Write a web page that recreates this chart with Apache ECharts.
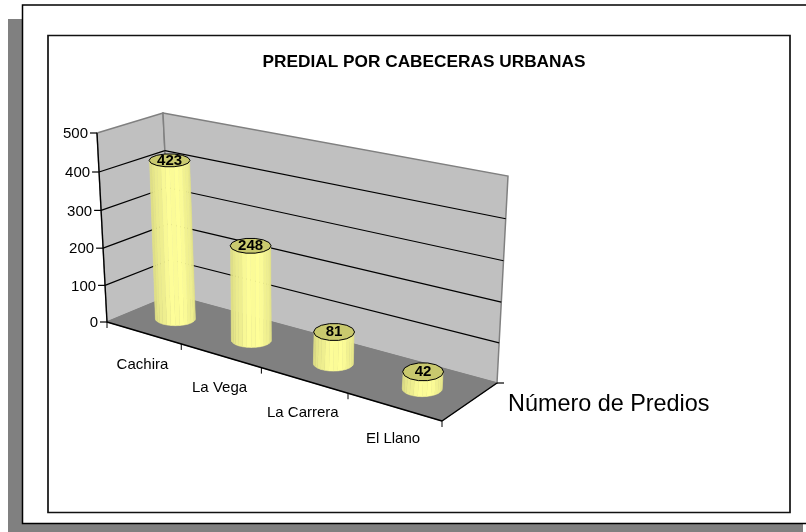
<!DOCTYPE html>
<html>
<head>
<meta charset="utf-8">
<style>
  html, body { margin: 0; padding: 0; background: #fff; overflow: hidden; }
  #chart { width: 806px; height: 532px; }
</style>
<script src="https://cdn.jsdelivr.net/npm/echarts@6/dist/echarts.min.js"></script>
</head>
<body>
<div id="chart"></div>
<script>
const categories = ['Cachira', 'La Vega', 'La Carrera', 'El Llano']
const predios = [423, 248, 81, 42]
const yTicks = [0, 100, 200, 300, 400, 500]
const seriesName = 'Número de Predios'
const chartTitle = 'PREDIAL POR CABECERAS URBANAS'

const FONT = '"Liberation Sans", Arial, sans-serif'

// hidden cartesian grid: gives the scales, the box below bends them into the 3D look
const plot = { left: 100, top: 100, width: 400, height: 200 }

// corners of the 3D box on screen
const box = {
    floorFL: [107, 322], floorFR: [442, 421], floorBL: [172, 295], floorBR: [497, 383],
    topFL: [97, 133], topFR: [459, 206], topBL: [163, 113], topBR: [508, 176]
}
const persp = (t, k) => t / (t + k * (1 - t))
const mix = (a, b, t) => [a[0] + (b[0] - a[0]) * t, a[1] + (b[1] - a[1]) * t]

const project = function (u, h, d) {
    const uu = persp(u, 1.17), hh = persp(h, 1.04)
    const bottom = mix(mix(box.floorFL, box.floorFR, uu), mix(box.floorBL, box.floorBR, uu), d)
    const top = mix(mix(box.topFL, box.topFR, uu), mix(box.topBL, box.topBR, uu), d)
    return mix(bottom, top, hh)
}
// pixel on the hidden grid -> pixel on the box
const fromGrid = function (pt, d) {
    return project((pt[0] - plot.left) / plot.width, (plot.top + plot.height - pt[1]) / plot.height, d)
}
const line = (a, b, stroke, lineWidth) => ({
    type: 'line',
    shape: { x1: a[0], y1: a[1], x2: b[0], y2: b[1] },
    style: { stroke, lineWidth, fill: null }
})
const poly = (points, fill, stroke, lineWidth) => ({
    type: 'polygon',
    shape: { points },
    style: { fill, stroke: stroke || fill, lineWidth: lineWidth || 0.5 }
})
const label = (text, pos, font, align) => ({
    type: 'text',
    style: { text, x: pos[0], y: pos[1], font, fill: '#000', align: align || 'center', verticalAlign: 'middle' }
})

const renderBox = function (params, api) {
    const children = []
    const yTop = api.coord([0, yTicks[yTicks.length - 1]])[1]
    const y0 = api.coord([0, 0])[1]
    const band = api.size([1, 0])[0]
    const xLeft = api.coord([0, 0])[0] - band / 2
    const xRight = xLeft + band * categories.length
    const at = (x, y, d) => fromGrid([x, y], d)

    const fl = at(xLeft, y0, 0), fr = at(xRight, y0, 0), bl = at(xLeft, y0, 1), br = at(xRight, y0, 1)
    const tfl = at(xLeft, yTop, 0), tbl = at(xLeft, yTop, 1), tbr = at(xRight, yTop, 1)

    children.push(poly([tfl, tbl, bl, fl], '#c0c0c0', '#808080', 1.5))
    children.push(poly([tbl, tbr, br, bl], '#c0c0c0', '#808080', 1.5))
    children.push(poly([fl, fr, br, bl], '#808080', '#808080', 1))

    yTicks.forEach(v => {
        const y = api.coord([0, v])[1]
        const a = at(xLeft, y, 0), b = at(xLeft, y, 1), c = at(xRight, y, 1)
        if (v > 0 && v < 500) {
            children.push(line(a, b, '#000', 1.2))
            children.push(line(b, c, '#000', 1.2))
        }
        children.push(line([a[0] - 7, a[1]], a, '#000', 1.2))
        children.push(label(String(v), [a[0] - 9, a[1] + 1], '15px ' + FONT, 'right'))
    })
    children.push(line(tfl, fl, '#000', 1.3))
    children.push(line(fl, fr, '#000', 1.5))
    children.push(line(fr, br, '#000', 1.5))
    children.push(line(br, [br[0] + 7, br[1]], '#000', 1.2))

    for (let i = 0; i <= categories.length; i++) {
        const p = at(xLeft + band * i, y0, 0)
        children.push(line(p, [p[0], p[1] + 6], '#000', 1))
        if (i < categories.length) {
            const c = at(api.coord([i, 0])[0], y0, 0)
            children.push(label(categories[i], [c[0] - 1, c[1] + 32.5], '15px ' + FONT))
        }
    }
    return { type: 'group', children }
}

const FACETS = 14
const renderCylinder = function (params, api) {
    const i = api.value(0), v = api.value(1)
    const base = fromGrid(api.coord([i, 0]), 0.5)
    const top = fromGrid(api.coord([i, v]), 0.5)
    const rx = 20
    // the caps look flatter higher up the picture
    const ryTop = 6.5 + (top[1] - 160) * 0.012
    const ryBase = 7 + (base[1] - 319) * 0.015
    const children = []
    for (let f = 0; f < FACETS; f++) {
        const t1 = Math.PI * f / FACETS, t2 = Math.PI * (f + 1) / FACETS
        const tm = (t1 + t2) / 2
        // brightest a little right of centre
        const s = 0.88 + 0.12 * Math.pow(Math.max(0, Math.cos(tm - Math.PI * 0.45)), 2) - (f % 3 === 0 ? 0.015 : 0)
        const col = 'rgb(' + Math.round(255 * s) + ',' + Math.round(255 * s) + ',' + Math.round(153 * s) + ')'
        children.push(poly([
            [top[0] + rx * Math.cos(t1), top[1] + ryTop * Math.sin(t1)],
            [top[0] + rx * Math.cos(t2), top[1] + ryTop * Math.sin(t2)],
            [base[0] + rx * Math.cos(t2), base[1] + ryBase * Math.sin(t2)],
            [base[0] + rx * Math.cos(t1), base[1] + ryBase * Math.sin(t1)]
        ], col))
    }
    const cap = []
    for (let k = 0; k < 14; k++) {
        const t = Math.PI * 2 * k / 14
        cap.push([top[0] + (rx + 0.5) * Math.cos(t), top[1] + ryTop * Math.sin(t)])
    }
    children.push(poly(cap, '#c9c96e', '#000', 1))
    children.push(label(String(predios[i]), [top[0], top[1]], 'bold 15px ' + FONT))
    return { type: 'group', children }
}

const chart = echarts.init(document.getElementById('chart'), null, { renderer: 'canvas' })
chart.setOption({
    animation: false,
    backgroundColor: '#fff',
    title: {
        text: chartTitle,
        left: 419,
        top: 49,
        textAlign: 'center',
        textStyle: { fontFamily: FONT, fontSize: 17.25, fontWeight: 'bold', color: '#000' }
    },
    legend: {
        data: [seriesName],
        left: 503,
        top: 393,
        icon: 'none',
        itemWidth: 0,
        itemHeight: 0,
        padding: 0,
        textStyle: { fontFamily: FONT, fontSize: 23.4, color: '#000' }
    },
    grid: plot,
    xAxis: { type: 'category', data: categories, show: false },
    yAxis: { type: 'value', min: 0, max: 500, interval: 100, show: false },
    graphic: [
        { type: 'rect', z: -10, shape: { x: 8, y: 19, width: 795, height: 520 }, style: { fill: '#808080' } },
        { type: 'rect', z: -9, shape: { x: 22.5, y: 5, width: 790, height: 518.5 }, style: { fill: '#fff', stroke: '#000', lineWidth: 1.5 } },
        { type: 'rect', z: -8, shape: { x: 48, y: 35.5, width: 742, height: 477 }, style: { fill: '#fff', stroke: '#111', lineWidth: 1.7 } }
    ],
    series: [
        { type: 'custom', silent: true, clip: false, z: 2, renderItem: renderBox, data: [[0, 0]], encode: { x: 0, y: 1 } },
        {
            type: 'custom', name: seriesName, silent: true, clip: false, z: 3, renderItem: renderCylinder,
            data: predios.map((v, i) => [i, v]), encode: { x: 0, y: 1 }
        }
    ]
})
</script>
</body>
</html>
